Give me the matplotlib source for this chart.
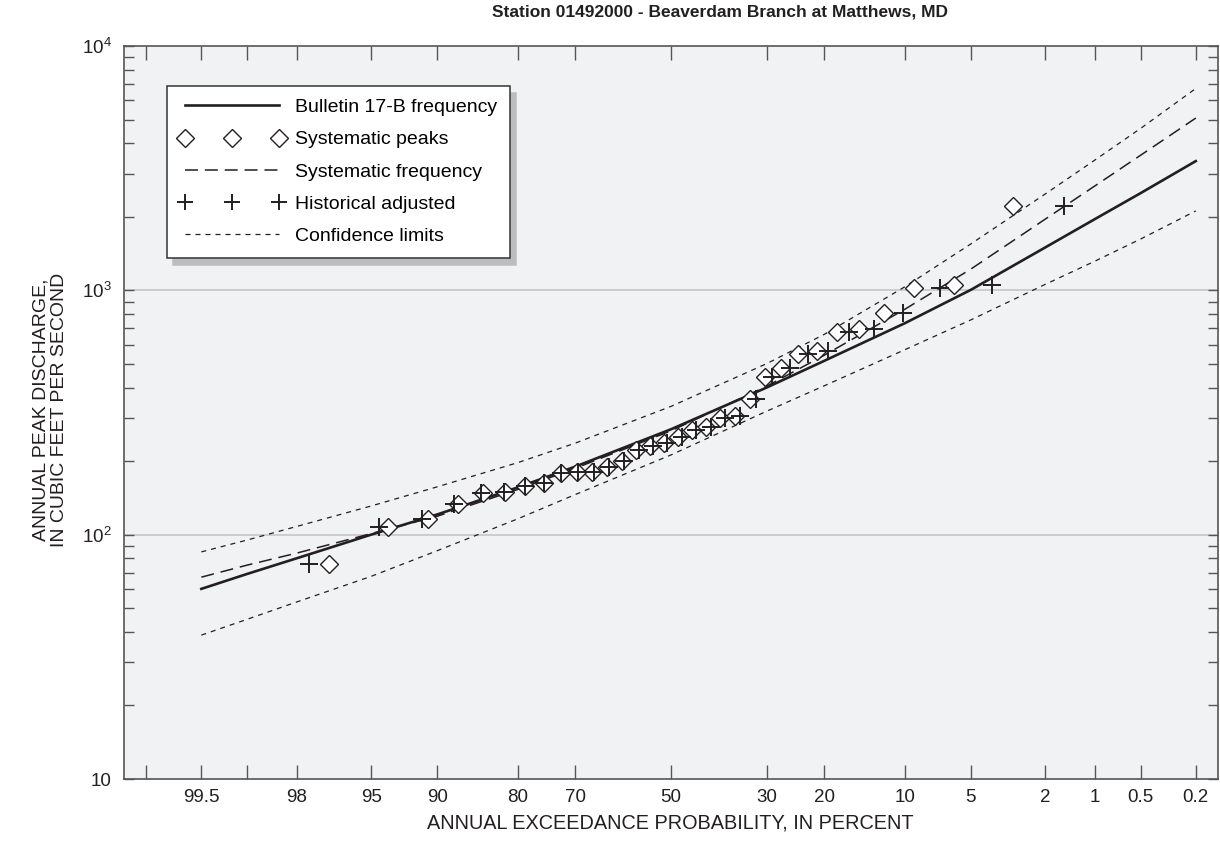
from statistics import NormalDist
import numpy as np
import matplotlib
matplotlib.use("Agg")
import matplotlib.pyplot as plt
from matplotlib.lines import Line2D
from matplotlib.ticker import FixedLocator, FixedFormatter, LogLocator, NullFormatter

plt.rcParams['font.family'] = ['Liberation Sans', 'DejaVu Sans']

# probabilities at which the frequency curves are read (percent exceedance)
curve_prob = [99.5, 99, 98, 95, 90, 80, 70, 50, 30, 20, 10, 5, 2, 1, 0.5, 0.2]
bulletin_17b = [60, 69, 80, 100, 121, 156, 190, 270, 400, 515, 733, 1005, 1500, 1960, 2500, 3380]
systematic_freq = [67, 75, 84, 101, 119, 153, 187, 266, 405, 543, 836, 1222, 1959, 2680, 3573, 5070]
conf_upper = [85, 95, 108, 131, 157, 197, 237, 335, 501, 661, 1033, 1549, 2483, 3420, 4600, 6700]
conf_lower = [38.8, 45, 53, 67.5, 86, 116, 146, 212, 320, 407, 571, 757, 1059, 1318, 1622, 2114]

# annual peaks, largest first
peaks = [2213, 1052, 1021, 807, 695, 675, 565, 548, 481, 442, 359, 305, 300, 276, 268, 251,
         237, 231, 222, 200, 189, 181, 180, 179, 163, 158, 149, 148, 133, 116, 108, 75.9]
# systematic plotting positions (percent)
sys_prob = [3.03, 6.06, 9.09, 12.12, 15.15, 18.18, 21.21, 24.24, 27.27, 30.30, 33.33,
            36.36, 39.39, 42.42, 45.45, 48.48, 51.52, 54.55, 57.58, 60.61, 63.64, 66.67,
            69.70, 72.73, 75.76, 78.79, 81.82, 84.85, 87.88, 90.91, 93.94, 96.97]
# historically adjusted plotting positions (percent)
hist_prob = [1.56, 3.91, 7.03, 10.16, 13.28, 16.41, 19.53, 22.66, 25.78, 28.91, 32.03,
             35.16, 38.28, 41.41, 44.53, 47.66, 50.78, 53.91, 57.03, 60.16, 63.28, 66.41,
             69.53, 72.66, 75.78, 78.91, 82.03, 85.16, 88.28, 91.41, 94.53, 97.66]

x_ticks = [99.8, 99.5, 99, 98, 95, 90, 80, 70, 50, 30, 20, 10, 5, 2, 1, 0.5, 0.2]
x_ticklabels = ['', '99.5', '', '98', '95', '90', '80', '70', '50', '30', '20', '10',
                '5', '2', '1', '0.5', '0.2']

nd = NormalDist()
_inv = np.vectorize(lambda v: nd.inv_cdf(1 - v / 100.0), otypes=[float])
_cdf = np.vectorize(lambda v: 100.0 * (1 - nd.cdf(v)), otypes=[float])


def prob_to_z(p):
    p = np.clip(np.asarray(p, dtype=float), 1e-6, 100 - 1e-6)
    return _inv(p)


def z_to_prob(z):
    return _cdf(np.asarray(z, dtype=float))


ink = '#231f20'
fig = plt.figure(figsize=(12.2, 8.46), dpi=100)
ax = fig.add_axes([124 / 1220, 1 - 779 / 846, 1094 / 1220, 733 / 846])
ax.set_facecolor('#f1f2f4')

ax.set_xscale('function', functions=(prob_to_z, z_to_prob))
ax.set_yscale('log')
ax.set_xlim(float(z_to_prob(-3.0)), float(z_to_prob(3.0)))
ax.invert_xaxis()
ax.set_ylim(10, 1e4)

for yv in (100, 1000):
    ax.axhline(yv, color='#c6c6c6', lw=1.2, zorder=1)

ax.plot(curve_prob, conf_upper, color=ink, lw=0.9, dashes=(4, 4), zorder=2)
ax.plot(curve_prob, conf_lower, color=ink, lw=0.9, dashes=(4, 4), zorder=2)
ax.plot(curve_prob, systematic_freq, color=ink, lw=1.1, dashes=(8.5, 4.5), zorder=2)
ax.plot(curve_prob, bulletin_17b, color=ink, lw=1.9, zorder=3)
ax.plot(sys_prob, peaks, ls='none', marker='D', ms=9.5, mfc='white', mec=ink, mew=1.0, zorder=4)
ax.plot(hist_prob, peaks, ls='none', marker='+', ms=12.5, mec=ink, mew=1.4, zorder=5)

ax.xaxis.set_major_locator(FixedLocator(x_ticks))
ax.xaxis.set_major_formatter(FixedFormatter(x_ticklabels))
ax.xaxis.set_minor_locator(FixedLocator([]))
ax.yaxis.set_major_locator(FixedLocator([10, 100, 1000, 10000]))
ax.yaxis.set_major_formatter(FixedFormatter(['10', r'$\mathregular{10^2}$',
                                             r'$\mathregular{10^3}$', r'$\mathregular{10^4}$']))
ax.yaxis.set_minor_locator(LogLocator(base=10, subs=np.arange(2, 10)))
ax.yaxis.set_minor_formatter(NullFormatter())

ax.tick_params(axis='x', which='major', direction='in', length=10, width=1, color='#555555',
               top=True, bottom=True, labelsize=13.5, pad=7, labelcolor=ink)
ax.tick_params(axis='y', which='both', direction='in', length=7, width=1, color='#555555',
               left=True, right=True, labelsize=13.5, pad=9, labelcolor=ink)
for s in ax.spines.values():
    s.set_color('#555555')
    s.set_linewidth(1.2)

handles = [
    Line2D([], [], color=ink, lw=1.9),
    Line2D([], [], ls='none', marker='D', ms=9, mfc='white', mec=ink, mew=1.0),
    Line2D([], [], color=ink, lw=1.1, dashes=(8.5, 4.5)),
    Line2D([], [], ls='none', marker='+', ms=12, mec=ink, mew=1.4),
    Line2D([], [], color=ink, lw=0.9, dashes=(4, 4)),
]
labels = ['Bulletin 17-B frequency', 'Systematic peaks', 'Systematic frequency',
          'Historical adjusted', 'Confidence limits']
leg = ax.legend(handles, labels, loc='upper left', bbox_to_anchor=(43 / 1094, 693 / 733),
                numpoints=3, handlelength=5.4, handletextpad=0.55, fontsize=14,
                labelspacing=0.75, borderpad=0.65, borderaxespad=0, fancybox=False,
                framealpha=1, edgecolor='#333333',
                shadow={'ox': 4.5, 'oy': -5, 'color': '#bdbdbd', 'alpha': 1})
leg.get_frame().set_linewidth(1.1)
leg.set_zorder(10)

fig.text(720 / 1220, 1 - 12 / 846, 'Station 01492000 - Beaverdam Branch at Matthews, MD',
         ha='center', va='center', fontsize=12.5, fontweight='bold', color=ink)
fig.text(670 / 1220, 1 - 823 / 846, 'ANNUAL EXCEEDANCE PROBABILITY, IN PERCENT',
         ha='center', va='center', fontsize=14.3, color=ink)
fig.text(50 / 1220, 1 - 410 / 846, 'ANNUAL PEAK DISCHARGE,\nIN CUBIC FEET PER SECOND',
         ha='center', va='center', rotation=90, fontsize=14, color=ink, linespacing=1.1)

fig.savefig('out.png', dpi=100)
